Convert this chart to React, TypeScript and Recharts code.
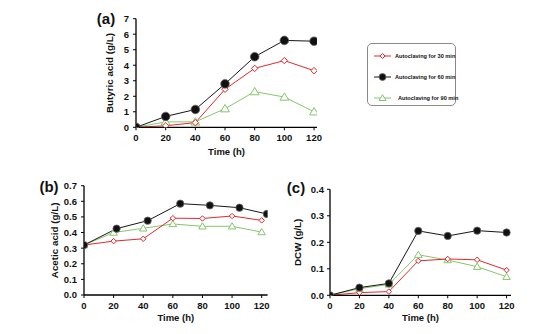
import React from "react";
import { LineChart, Line, XAxis, YAxis } from "recharts";

// sampling times (h)
const hours = [0, 20, 40, 60, 80, 100, 120];
// the 60 min series in (b) was plotted slightly shifted in time
const aceticHours60 = [0, 22, 43, 65, 85, 105, 123.5];

// (a) butyric acid, g/L
const butyric30 = [0, 0.1, 0.3, 2.45, 3.8, 4.3, 3.65];
const butyric60 = [0, 0.7, 1.15, 2.8, 4.55, 5.6, 5.55];
const butyric90 = [0, 0.35, 0.35, 1.2, 2.3, 1.95, 1.0];

// (b) acetic acid, g/L
const acetic30 = [0.32, 0.345, 0.36, 0.492, 0.49, 0.506, 0.478];
const acetic60 = [0.32, 0.425, 0.476, 0.585, 0.574, 0.559, 0.519];
const acetic90 = [0.32, 0.4, 0.427, 0.455, 0.44, 0.44, 0.403];

// (c) dry cell weight, g/L
const dcw30 = [0, 0.01, 0.014, 0.13, 0.137, 0.134, 0.095];
const dcw60 = [0, 0.029, 0.045, 0.243, 0.224, 0.244, 0.237];
const dcw90 = [0, 0.025, 0.041, 0.153, 0.133, 0.108, 0.07];

const legendNames = ["Autoclaving for 30 min", "Autoclaving for 60 min", "Autoclaving for 90 min"];

const xTicks = [0, 20, 40, 60, 80, 100, 120];

const RED = "#e3282c";
const BLACK = "#161616";
const GREEN = "#86c66c";
const FONT = "'Liberation Sans', Arial, sans-serif";

type Shape = "diamond" | "circle" | "triangle";

const zip = (xs: number[], ys: number[]) => xs.map((t, i) => ({ t, v: ys[i] }));

const marker = (shape: Shape, cx: number, cy: number, s: number, key?: any) => {
  if (shape === "circle") {
    return <circle key={key} cx={cx} cy={cy} r={4.3 * s} fill="#111" stroke="#666" strokeWidth={0.8} />;
  }
  if (shape === "diamond") {
    const r = 3.2 * s;
    return (
      <polygon
        key={key}
        points={`${cx},${cy - r} ${cx + r},${cy} ${cx},${cy + r} ${cx - r},${cy}`}
        fill="#fff"
        stroke={RED}
        strokeWidth={1}
      />
    );
  }
  const r = 4.2 * s;
  return (
    <polygon
      key={key}
      points={`${cx},${cy - r} ${cx + r * 1.05},${cy + r * 0.75} ${cx - r * 1.05},${cy + r * 0.75}`}
      fill="#fff"
      stroke={GREEN}
      strokeWidth={1}
    />
  );
};

interface SeriesDef {
  id: string;
  color: string;
  shape: Shape;
  data: { t: number; v: number }[];
}

interface PanelProps {
  left: number;
  top: number;
  width: number;
  height: number;
  margin: { top: number; right: number; bottom: number; left: number };
  yWidth: number;
  xMax: number;
  yMax: number;
  yTicks: number[];
  digits: number;
  yLabel: string;
  yLabelOffset: number;
  yTickMargin: number;
  xLabelOffset: number;
  markerScale: number;
  series: SeriesDef[];
}

const tickStyle = { fill: "#111", fontSize: 9.5, fontWeight: 700, fontFamily: FONT };
const titleStyle = { fill: "#111", fontSize: 9.5, fontWeight: 700, fontFamily: FONT };

const Panel = (p: PanelProps) => (
  <div style={{ position: "absolute", left: p.left, top: p.top }}>
    <LineChart width={p.width} height={p.height} margin={p.margin}>
      <XAxis
        type="number"
        dataKey="t"
        domain={[0, p.xMax]}
        ticks={xTicks}
        allowDataOverflow
        height={30}
        tick={tickStyle}
        tickSize={3}
        tickMargin={4}
        axisLine={{ stroke: "#000", strokeWidth: 1.3 }}
        tickLine={{ stroke: "#000" }}
        label={{ value: "Time (h)", position: "insideBottom", offset: p.xLabelOffset, style: titleStyle }}
      />
      <YAxis
        type="number"
        domain={[0, p.yMax]}
        ticks={p.yTicks}
        allowDataOverflow
        width={p.yWidth}
        tick={tickStyle}
        tickSize={3}
        tickMargin={p.yTickMargin}
        tickFormatter={(v: number) => v.toFixed(p.digits)}
        axisLine={{ stroke: "#000", strokeWidth: 1.3 }}
        tickLine={{ stroke: "#000" }}
        label={{
          value: p.yLabel,
          angle: -90,
          position: "insideLeft",
          offset: p.yLabelOffset,
          style: { ...titleStyle, fontSize: 9.8, textAnchor: "middle" },
        }}
      />
      {p.series.map((s) => (
        <Line
          key={s.id}
          data={s.data}
          dataKey="v"
          type="linear"
          stroke={s.color}
          strokeWidth={1}
          isAnimationActive={false}
          activeDot={false}
          dot={(d: any) => marker(s.shape, d.cx, d.cy, p.markerScale, `${s.id}-${d.index}`)}
        />
      ))}
    </LineChart>
  </div>
);

const PanelTag = ({ text, x, y }: { text: string; x: number; y: number }) => (
  <div
    style={{
      position: "absolute",
      left: x - 12,
      top: y - 9,
      width: 24,
      height: 18,
      lineHeight: "18px",
      textAlign: "center",
      fontFamily: FONT,
      fontWeight: 700,
      fontSize: 15,
      color: "#111",
    }}
  >
    {text}
  </div>
);

const legendItems: { shape: Shape; color: string }[] = [
  { shape: "diamond", color: RED },
  { shape: "circle", color: BLACK },
  { shape: "triangle", color: GREEN },
];

const LegendBox = () => (
  <div
    style={{
      position: "absolute",
      left: 367,
      top: 43,
      width: 89,
      height: 63,
      border: "1px solid #8a8a8a",
      borderRadius: 5,
      boxSizing: "border-box",
    }}
  >
    {legendItems.map((it, i) => (
      <div
        key={i}
        style={{ position: "absolute", left: 5, top: [7, 28, 49][i], height: 10, display: "flex", alignItems: "center" }}
      >
        <svg width={20} height={10}>
          <line x1={1} y1={5} x2={18} y2={5} stroke={it.color} strokeWidth={1} />
          {marker(it.shape, 9.5, 5, 0.8)}
        </svg>
        <span
          style={{
            marginLeft: i === 2 ? 5 : 2,
            fontFamily: FONT,
            fontSize: 5.6,
            fontWeight: 700,
            color: "#111",
            whiteSpace: "nowrap",
          }}
        >
          {legendNames[i]}
        </span>
      </div>
    ))}
  </div>
);

export default function App() {
  const seriesA: SeriesDef[] = [
    { id: "a90", color: GREEN, shape: "triangle", data: zip(hours, butyric90) },
    { id: "a30", color: RED, shape: "diamond", data: zip(hours, butyric30) },
    { id: "a60", color: BLACK, shape: "circle", data: zip(hours, butyric60) },
  ];
  const seriesB: SeriesDef[] = [
    { id: "b90", color: GREEN, shape: "triangle", data: zip(hours, acetic90) },
    { id: "b30", color: RED, shape: "diamond", data: zip(hours, acetic30) },
    { id: "b60", color: BLACK, shape: "circle", data: zip(aceticHours60, acetic60) },
  ];
  const seriesC: SeriesDef[] = [
    { id: "c90", color: GREEN, shape: "triangle", data: zip(hours, dcw90) },
    { id: "c30", color: RED, shape: "diamond", data: zip(hours, dcw30) },
    { id: "c60", color: BLACK, shape: "circle", data: zip(hours, dcw60) },
  ];

  return (
    <div style={{ position: "absolute", left: 0, top: 0, width: 553, height: 334, background: "#fff", overflow: "hidden" }}>
      <Panel
        left={0}
        top={0}
        width={340}
        height={165}
        margin={{ top: 18.7, right: 23, bottom: 7.7, left: 96 }}
        yWidth={40}
        xMax={122}
        yMax={7}
        yTicks={[0, 1, 2, 3, 4, 5, 6, 7]}
        digits={0}
        yLabel="Butyric acid (g/L)"
        yLabelOffset={14}
        yTickMargin={4}
        xLabelOffset={2}
        markerScale={1}
        series={seriesA}
      />
      <Panel
        left={0}
        top={160}
        width={290}
        height={174}
        margin={{ top: 25.7, right: 22.4, bottom: 9, left: 48 }}
        yWidth={36}
        xMax={124}
        yMax={0.7}
        yTicks={[0, 0.1, 0.2, 0.3, 0.4, 0.5, 0.6, 0.7]}
        digits={1}
        yLabel="Acetic acid (g/L)"
        yLabelOffset={7}
        yTickMargin={4}
        xLabelOffset={4.4}
        markerScale={0.85}
        series={seriesB}
      />
      <Panel
        left={290}
        top={160}
        width={263}
        height={174}
        margin={{ top: 29.3, right: 42, bottom: 8.7, left: 4 }}
        yWidth={36}
        xMax={123}
        yMax={0.4}
        yTicks={[0, 0.1, 0.2, 0.3, 0.4]}
        digits={1}
        yLabel="DCW (g/L)"
        yLabelOffset={4}
        yTickMargin={3}
        xLabelOffset={4}
        markerScale={0.85}
        series={seriesC}
      />
      <PanelTag text="(a)" x={106} y={19} />
      <PanelTag text="(b)" x={49} y={187} />
      <PanelTag text="(c)" x={296} y={188} />
      <LegendBox />
    </div>
  );
}
